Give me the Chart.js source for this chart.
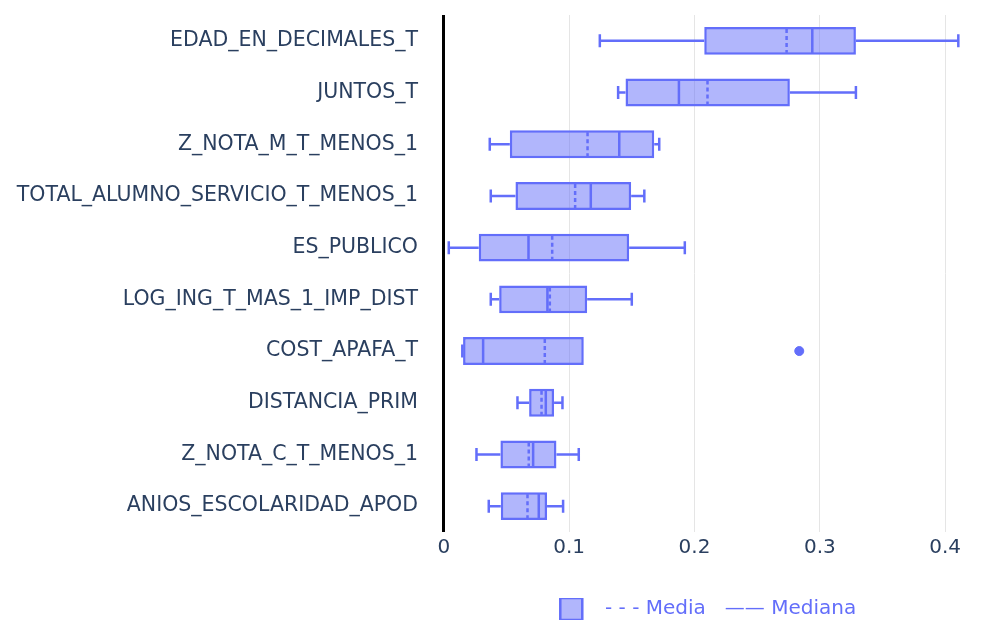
<!DOCTYPE html>
<html>
<head>
<meta charset="utf-8">
<script src="https://cdn.jsdelivr.net/npm/chart.js@4.4.1/dist/chart.umd.min.js"></script>
<style>
  html, body { margin: 0; padding: 0; background: #ffffff; }
  #wrap { width: 982px; height: 620px; position: relative; }
</style>
</head>
<body>
<div id="wrap"><canvas id="c" width="982" height="620"></canvas></div>
<script>
// Variables, top to bottom
const categories = [
  'EDAD_EN_DECIMALES_T',
  'JUNTOS_T',
  'Z_NOTA_M_T_MENOS_1',
  'TOTAL_ALUMNO_SERVICIO_T_MENOS_1',
  'ES_PUBLICO',
  'LOG_ING_T_MAS_1_IMP_DIST',
  'COST_APAFA_T',
  'DISTANCIA_PRIM',
  'Z_NOTA_C_T_MENOS_1',
  'ANIOS_ESCOLARIDAD_APOD'
];

// Box statistics per variable
const whiskerLow  = [0.1245, 0.1391, 0.0367, 0.0375, 0.0040, 0.0375, 0.0148, 0.0588, 0.0261, 0.0359];
const q1          = [0.2078, 0.1450, 0.0527, 0.0572, 0.0279, 0.0442, 0.0154, 0.0681, 0.0452, 0.0455];
const median      = [0.2940, 0.1876, 0.1400, 0.1173, 0.0676, 0.0827, 0.0314, 0.0814, 0.0713, 0.0758];
const mean        = [0.2735, 0.2104, 0.1147, 0.1048, 0.0865, 0.0846, 0.0806, 0.0780, 0.0678, 0.0668];
const q3          = [0.3288, 0.2761, 0.1679, 0.1495, 0.1479, 0.1144, 0.1117, 0.0880, 0.0899, 0.0824];
const whiskerHigh = [0.4105, 0.3288, 0.1719, 0.1600, 0.1923, 0.1500, 0.1117, 0.0947, 0.1077, 0.0952];

// Points beyond the whiskers
const outlierCategories = ['COST_APAFA_T'];
const outlierValues     = [0.2836];

const xTickValues = [0, 0.1, 0.2, 0.3, 0.4];
const legendText = '  - - - Media   \u2014\u2014 Mediana';

const BLUE = '#636efa';
const BLUE_FILL = 'rgba(99,110,250,0.5)';
const TEXT = '#2a3f5f';
const FONT = '"DejaVu Sans", Verdana, sans-serif';
const LINE_W = 2.5;

// Whiskers, median and mean lines drawn on top of each box
const boxDetails = {
  id: 'boxDetails',
  afterDatasetsDraw(chart) {
    const xs = chart.scales.x;
    const meta = chart.getDatasetMeta(0);
    const ctx = chart.ctx;
    ctx.save();
    ctx.strokeStyle = BLUE;
    ctx.lineWidth = LINE_W;
    meta.data.forEach((bar, i) => {
      const y = bar.y;
      const half = bar.height / 2;
      const capHalf = 6.5;
      const xLo = xs.getPixelForValue(whiskerLow[i]);
      const xQ1 = xs.getPixelForValue(q1[i]);
      const xQ3 = xs.getPixelForValue(q3[i]);
      const xHi = xs.getPixelForValue(whiskerHigh[i]);
      ctx.setLineDash([]);
      ctx.beginPath();
      if (whiskerLow[i] < q1[i]) {
        ctx.moveTo(xLo, y); ctx.lineTo(xQ1, y);
        ctx.moveTo(xLo, y - capHalf); ctx.lineTo(xLo, y + capHalf);
      }
      if (whiskerHigh[i] > q3[i]) {
        ctx.moveTo(xQ3, y); ctx.lineTo(xHi, y);
        ctx.moveTo(xHi, y - capHalf); ctx.lineTo(xHi, y + capHalf);
      }
      const xMed = xs.getPixelForValue(median[i]);
      ctx.moveTo(xMed, y - half + 1); ctx.lineTo(xMed, y + half - 1);
      ctx.stroke();
      const xMean = xs.getPixelForValue(mean[i]);
      ctx.setLineDash([4, 3]);
      ctx.beginPath();
      ctx.moveTo(xMean, y - half + 2); ctx.lineTo(xMean, y + half - 2);
      ctx.stroke();
    });
    ctx.restore();
  }
};

new Chart(document.getElementById('c'), {
  type: 'bar',
  data: {
    labels: categories,
    datasets: [
      {
        type: 'bar',
        label: legendText,
        indexAxis: 'y',
        data: q1.map((v, i) => [v, q3[i]]),
        backgroundColor: BLUE_FILL,
        borderColor: BLUE,
        borderWidth: LINE_W,
        borderSkipped: false,
        barPercentage: 0.54,
        categoryPercentage: 1
      },
      {
        type: 'scatter',
        label: 'outliers',
        data: outlierValues.map((v, i) => ({ x: v, y: outlierCategories[i] })),
        backgroundColor: BLUE,
        borderColor: BLUE,
        pointRadius: 4.5,
        pointHoverRadius: 4.5
      }
    ]
  },
  options: {
    responsive: false,
    animation: false,
    indexAxis: 'y',
    layout: { padding: { top: 15, right: 5, bottom: -10, left: 0 } },
    scales: {
      x: {
        type: 'linear',
        position: 'bottom',
        min: -0.003,
        max: 0.425,
        afterBuildTicks(scale) {
          scale.ticks = xTickValues.map(v => ({ value: v }));
        },
        afterFit(scale) { scale.height = 66; scale.paddingLeft = 0; scale.paddingRight = 0; },
        border: { display: false },
        grid: {
          drawTicks: false,
          color: c => (c.tick && c.tick.value === 0) ? '#000000' : '#e5e5e5',
          lineWidth: c => (c.tick && c.tick.value === 0) ? 3 : 1
        },
        ticks: {
          color: TEXT,
          padding: 4,
          font: { family: FONT, size: 20 },
          callback: v => String(v)
        }
      },
      y: {
        type: 'category',
        position: 'left',
        afterFit(scale) { scale.width = 440; scale.paddingTop = 0; scale.paddingBottom = 0; },
        border: { display: false },
        grid: { display: false, drawTicks: false },
        ticks: {
          color: TEXT,
          padding: 22,
          font: { family: FONT, size: 20.5 }
        }
      }
    },
    plugins: {
      tooltip: { enabled: false },
      legend: {
        position: 'bottom',
        fullSize: false,
        labels: {
          filter: item => item.datasetIndex === 0,
          color: BLUE,
          boxWidth: 22,
          boxHeight: 22,
          padding: 0,
          font: { family: FONT, size: 20 }
        }
      }
    }
  },
  plugins: [boxDetails]
});
</script>
</body>
</html>
